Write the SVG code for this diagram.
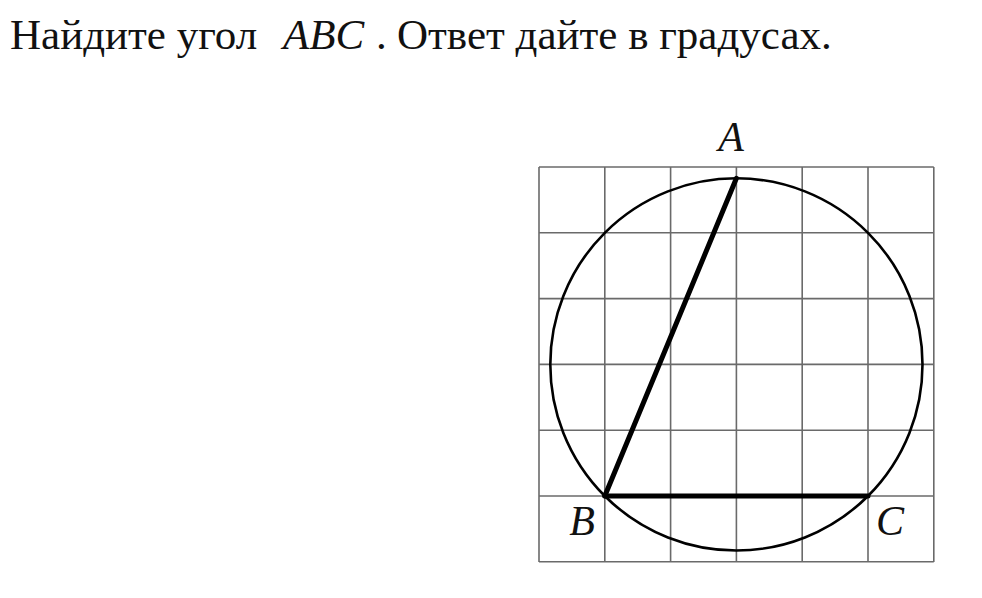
<svg xmlns="http://www.w3.org/2000/svg" width="982" height="598" viewBox="0 0 982 598">
<style>
.t{font-family:'Liberation Serif','DejaVu Serif',serif;font-size:43px;fill:#111}
.i{font-style:italic}
.lbl{font-family:'Liberation Serif','DejaVu Serif',serif;font-size:42px;font-style:italic;fill:#111}
.grid line{stroke:#6a6a6a;stroke-width:1.6}
.side{stroke:#000;stroke-width:5;stroke-linecap:round}
</style>
<rect width="982" height="598" fill="#fff"/>
<g id="title">
<text class="t" x="10" y="48.5">Найдите угол</text>
<text class="t i" x="283" y="48.5">ABC</text>
<text class="t" x="376" y="48.5">.</text>
<text class="t" x="397" y="48.5">Ответ дайте в градусах.</text>
</g>
<g id="grid" class="grid">
<line x1="539" y1="167" x2="539" y2="562"/>
<line x1="604.8" y1="167" x2="604.8" y2="562"/>
<line x1="670.6" y1="167" x2="670.6" y2="562"/>
<line x1="736.4" y1="167" x2="736.4" y2="562"/>
<line x1="802.2" y1="167" x2="802.2" y2="562"/>
<line x1="868" y1="167" x2="868" y2="562"/>
<line x1="933.8" y1="167" x2="933.8" y2="562"/>
<line x1="539" y1="167" x2="933.8" y2="167"/>
<line x1="539" y1="232.8" x2="933.8" y2="232.8"/>
<line x1="539" y1="298.6" x2="933.8" y2="298.6"/>
<line x1="539" y1="364.4" x2="933.8" y2="364.4"/>
<line x1="539" y1="430.2" x2="933.8" y2="430.2"/>
<line x1="539" y1="496" x2="933.8" y2="496"/>
<line x1="539" y1="561.8" x2="933.8" y2="561.8"/>
</g>
<g id="circle">
<circle cx="736.4" cy="364.4" r="186.1" fill="none" stroke="#000" stroke-width="2.6"/>
</g>
<g id="connectors">
<line class="side" x1="736.4" y1="178.3" x2="604.8" y2="496"/>
<line class="side" x1="604.8" y1="496" x2="868" y2="496"/>
</g>
<g id="A"><text class="lbl" x="731" y="151" text-anchor="middle">A</text></g>
<g id="B"><text class="lbl" x="582" y="535" text-anchor="middle">B</text></g>
<g id="C"><text class="lbl" x="890" y="535" text-anchor="middle">C</text></g>
</svg>
